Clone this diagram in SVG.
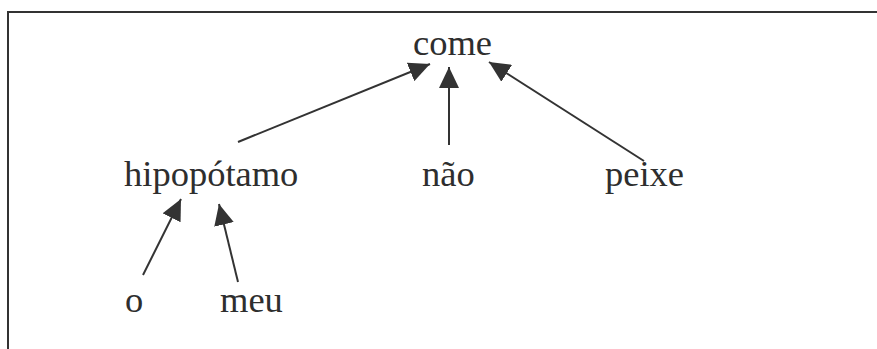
<svg xmlns="http://www.w3.org/2000/svg" width="877" height="349" viewBox="0 0 877 349">
<style>
.t{font-family:"Liberation Serif","Times New Roman",serif;font-size:36.5px;fill:#2e2e2e}
.c{stroke:#333;stroke-width:2;fill:none}
.f{stroke:#333;stroke-width:2;fill:none}
</style>
<defs>
<marker id="ah" markerUnits="userSpaceOnUse" markerWidth="22" markerHeight="20" refX="21" refY="10" orient="auto">
<path d="M0,0 L21,10 L0,20 Z" fill="#333"/>
</marker>
</defs>
<rect width="877" height="349" fill="#fff"/>
<path class="f" d="M8,349 V12 H877"/>
<g id="connectors">
<line class="c" x1="238" y1="142" x2="430" y2="64" marker-end="url(#ah)"/>
<line class="c" x1="449" y1="145" x2="449" y2="67" marker-end="url(#ah)"/>
<line class="c" x1="644" y1="161" x2="489" y2="62" marker-end="url(#ah)"/>
<line class="c" x1="143" y1="275" x2="181" y2="199" marker-end="url(#ah)"/>
<line class="c" x1="238" y1="282" x2="219" y2="204" marker-end="url(#ah)"/>
</g>
<g id="come"><text class="t" x="413" y="55">come</text></g>
<g id="hipopotamo"><text class="t" x="124" y="186">hipopótamo</text></g>
<g id="nao"><text class="t" x="422" y="186">não</text></g>
<g id="peixe"><text class="t" x="605" y="186">peixe</text></g>
<g id="o"><text class="t" x="125" y="312">o</text></g>
<g id="meu"><text class="t" x="220" y="312">meu</text></g>
</svg>
